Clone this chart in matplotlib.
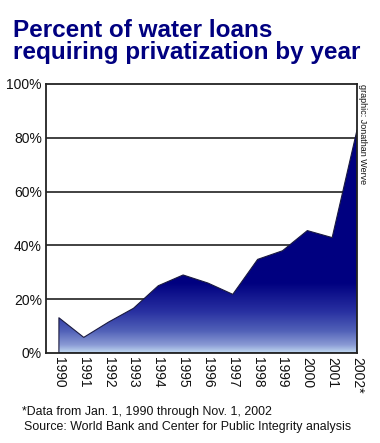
import matplotlib
matplotlib.use("Agg")
import matplotlib.pyplot as plt
import numpy as np
from matplotlib.colors import LinearSegmentedColormap

years = ["1990", "1991", "1992", "1993", "1994", "1995", "1996",
         "1997", "1998", "1999", "2000", "2001", "2002*"]
percent = [13.1, 5.8, 11.5, 16.6, 25.0, 29.0, 26.0,
           21.8, 34.8, 38.0, 45.5, 42.9, 82.9]
yticks = [0, 20, 40, 60, 80, 100]
ytick_labels = ["0%", "20%", "40%", "60%", "80%", "100%"]

navy = "#000080"
plt.rcParams['font.family'] = ['Liberation Sans', 'DejaVu Sans']

fig = plt.figure(figsize=(3.8, 4.43), dpi=100)
ax = fig.add_axes([0.121, 0.2032, 0.8185, 0.6072])

x = np.arange(len(years))

for t in yticks[1:-1]:
    ax.axhline(t, color="#333333", lw=1.3, zorder=1)

poly = ax.fill_between(x, 0, percent, facecolor="none",
                       edgecolor="#1a1a40", lw=0.8, zorder=2.5)
cmap = LinearSegmentedColormap.from_list(
    "g", [(0.0, "#c0d8f0"), (0.03, "#8898d4"), (0.08, "#5262b8"),
          (0.15, "#2a32a2"), (0.26, navy), (1.0, navy)])
grad = np.linspace(0, 1, 256).reshape(-1, 1)
im = ax.imshow(grad, extent=[x[0], x[-1], 0, 100], origin="lower",
               aspect="auto", cmap=cmap, zorder=2)
path = poly.get_paths()[0]
im.set_clip_path(path, transform=ax.transData)
ax.set_xlim(-0.52, len(years) - 1)
ax.set_ylim(0, 100)

for s in ax.spines.values():
    s.set_color("#222222")
    s.set_linewidth(1.3)
    s.set_zorder(3)

ax.set_yticks(yticks)
ax.set_yticklabels(ytick_labels, fontsize=10)
ax.set_xticks(x)
ax.set_xticklabels(years, rotation=-90, fontsize=10, va="top", ha="center")
ax.tick_params(axis="both", length=0, pad=3, colors="#111111")

fig.text(0.033, 0.916, "Percent of water loans", fontsize=17.5, fontweight="bold",
         color=navy, ha="left", va="baseline")
fig.text(0.033, 0.866, "requiring privatization by year", fontsize=17.5,
         fontweight="bold", color=navy, ha="left", va="baseline")

fig.text(0.955, 0.81, "graphic: Jonathan Werve", fontsize=6.5, rotation=-90,
         ha="center", va="top", color="#111111")

fig.text(0.058, 0.070, "*Data from Jan. 1, 1990 through Nov. 1, 2002",
         fontsize=8.9, ha="left", va="center", color="#111111")
fig.text(0.063, 0.036, "Source: World Bank and Center for Public Integrity analysis",
         fontsize=8.9, ha="left", va="center", color="#111111")

fig.savefig("out.png", dpi=100)
